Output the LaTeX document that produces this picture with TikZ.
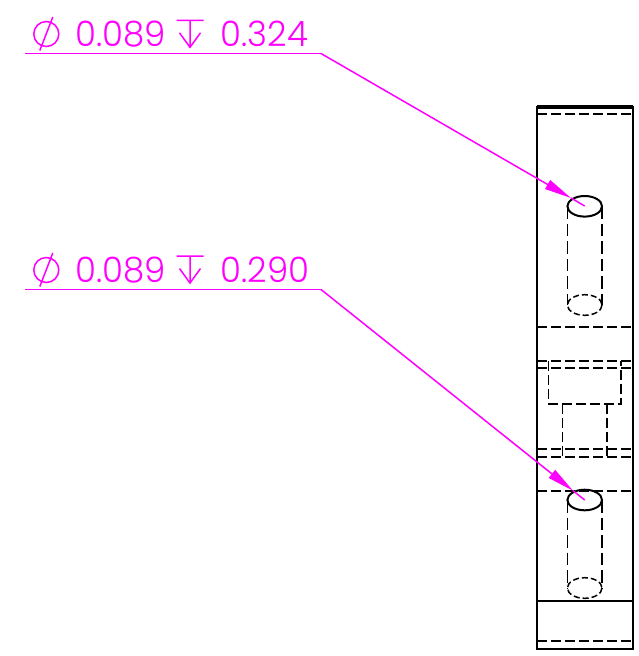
\documentclass[tikz,border=0pt]{standalone}
\usepackage{fontspec}
\setmainfont{Poppins Light}
\usetikzlibrary{arrows.meta}
\definecolor{callout}{RGB}{255,0,255}
\tikzset{
  leader/.style={callout, line width=1.5pt},
  leadtip/.style={leader, -{Triangle[length=27pt,width=10pt]}},
  calltext/.style={callout, anchor=base west, inner sep=0pt, xscale=0.97, font=\fontsize{35}{35}\selectfont},
  edge/.style={line width=2pt},
  hidden/.style={line width=1.5pt, dash pattern=on 10pt off 4pt},
  holeline/.style={line width=1.5pt, dash pattern=on 12.5pt off 5pt},
  dia/.pic={\draw[leader] (0,0) circle (12.5) (-6.5,16.5) -- (6.5,-17);},
  depthmark/.pic={\draw[leader] (-13.5,0) -- (13.5,0) (0,0) -- (0,27) (-10.5,12.5) -- (0,27) -- (10.5,12.5);}
}
\begin{document}
\begin{tikzpicture}[x=1pt,y=-1pt]
  \useasboundingbox (0,0) rectangle (638,656);
  % callouts
  \path (46.3,34) pic {dia} (190,20.3) pic {depthmark};
  \node[calltext] (dia1) at (75,46) {0.089};
  \node[calltext] (deep1) at (220.5,46) {0.324};
  \path (46.3,270) pic {dia} (190,256) pic {depthmark};
  \node[calltext] (dia2) at (75,282) {0.089};
  \node[calltext] (deep2) at (220.5,282) {0.290};
  % part outline
  \draw[edge] (537,107) rectangle (632.5,649);
  \draw[line width=3.5pt] (537,107) -- (632.5,107);
  \draw[edge] (537,601) -- (632.5,601);
  \foreach \y in {114,327,361,368,449,457,491,641}
    \draw[hidden] (537,\y) -- (632.5,\y);
  % counterbore
  \draw[hidden] (548.5,361) -- (548.5,404) -- (621,404) -- (621,361);
  \draw[hidden] (562.5,404) -- (562.5,457) (607,404) -- (607,457);
  % holes
  \foreach \t/\b in {206.3/305,500/588}{
    \draw[edge] (584.7,\t) ellipse (17.3 and 10.3);
    \draw[holeline] (567.5,\t) -- (567.5,\b) (602,\t) -- (602,\b);
    \draw[line width=1.5pt, dash pattern=on 6pt off 3pt] (584.7,\b) ellipse (17.3 and 10.3);
  }
  % leaders
  \coordinate (start1) at (25,53.5);
  \coordinate (knee1) at (321,53.5);
  \coordinate (tip1) at (571,198);
  \coordinate (end1) at (584.7,206);
  \coordinate (start2) at (25,289.5);
  \coordinate (knee2) at (321,289.5);
  \coordinate (tip2) at (573,490.7);
  \coordinate (end2) at (584.7,500);
  \draw[leader] (start1) -- (knee1);
  \draw[leadtip] (knee1) -- (tip1);
  \draw[leader] (tip1) -- (end1);
  \draw[leader] (start2) -- (knee2);
  \draw[leadtip] (knee2) -- (tip2);
  \draw[leader] (tip2) -- (end2);
\end{tikzpicture}
\end{document}
